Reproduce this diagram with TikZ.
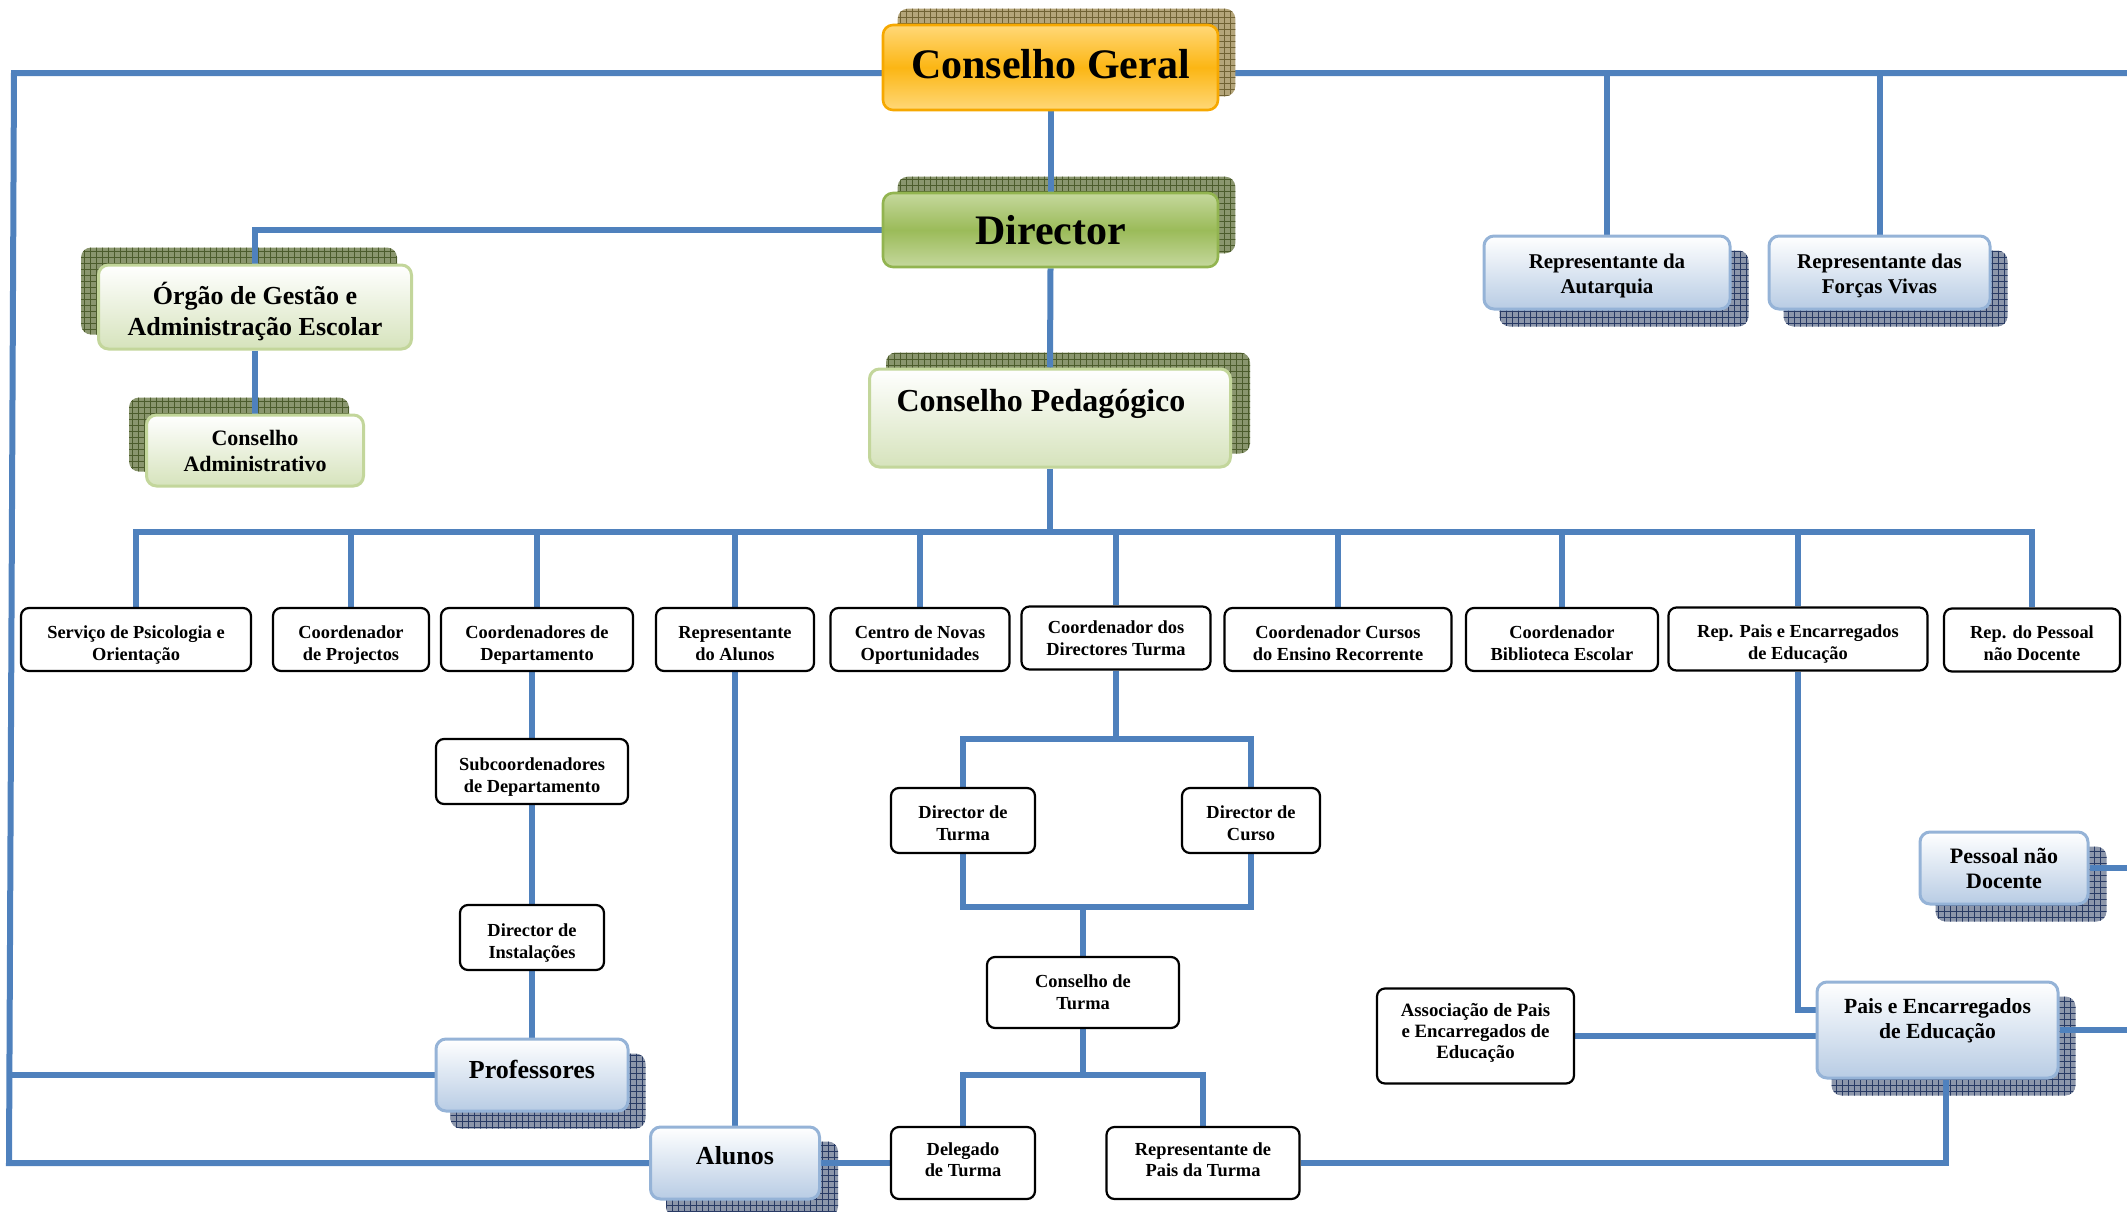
\documentclass[tikz,border=0pt]{standalone}
\usepackage{fontspec}
\setmainfont{Liberation Serif}
\usetikzlibrary{patterns,calc}
\definecolor{wireblue}{RGB}{79,129,189}
\definecolor{gerallight}{RGB}{255,216,120}
\definecolor{geralmid}{RGB}{252,182,20}
\definecolor{geralborder}{RGB}{246,168,0}
\definecolor{dirlight}{RGB}{197,216,157}
\definecolor{dirmid}{RGB}{155,187,89}
\definecolor{dirborder}{RGB}{146,180,80}
\definecolor{palegreen}{RGB}{214,227,188}
\definecolor{paleborder}{RGB}{195,214,155}
\definecolor{paleblue}{RGB}{184,204,228}
\definecolor{blueborder}{RGB}{149,179,215}
\definecolor{khakishade}{RGB}{180,165,122}
\definecolor{khakiline}{RGB}{112,98,52}
\definecolor{oliveshade}{RGB}{138,150,110}
\definecolor{oliveline}{RGB}{76,92,44}
\definecolor{slateshade}{RGB}{140,150,170}
\definecolor{slateline}{RGB}{40,58,100}

\pgfdeclarelayer{back}
\pgfdeclarelayer{shade}
\pgfdeclarelayer{wires}
\pgfsetlayers{back,shade,wires,main}

\begin{document}
\begin{tikzpicture}[x=0.5pt, y=-0.5pt,
    geral/.style={rectangle, draw=geralborder, line width=1.3pt, rounded corners=5pt,
                  top color=gerallight, bottom color=gerallight, middle color=geralmid,
                  font=\fontsize{21}{25}\selectfont\bfseries},
    chief/.style={rectangle, draw=dirborder, line width=1.3pt, rounded corners=5pt,
                  top color=dirlight, bottom color=dirlight, middle color=dirmid,
                  font=\fontsize{21}{25}\selectfont\bfseries},
    board/.style={rectangle, draw=paleborder, line width=1.5pt, rounded corners=5pt,
                  top color=white, bottom color=palegreen, align=center},
    member/.style={rectangle, draw=blueborder, line width=1.5pt, rounded corners=5pt,
                   top color=white, bottom color=paleblue, align=center,
                   font=\fontsize{10.5}{12.2}\selectfont\bfseries},
    unit/.style={rectangle, draw=black, line width=1.1pt, fill=white, rounded corners=4pt,
                 align=center, inner sep=2pt, font=\fontsize{9.2}{10.9}\selectfont\bfseries},
    lowered/.style={text height=20.5pt, text depth=0pt},
    shadowbox/.style={rounded corners=5pt},
    wire/.style={draw=wireblue, line width=3pt}
]
\useasboundingbox (0,0) rectangle (2127,1211);

% Top of the school
\node[geral, minimum width=167.5pt, minimum height=42.5pt, text depth=4pt] (cg) at (1050.5,67.5) {Conselho Geral};
\node[chief, minimum width=167.5pt, minimum height=37pt] (dir) at (1050.5,230) {Director};
\node[board, minimum width=156.5pt, minimum height=42pt, text height=28.5pt, text depth=0pt, font=\fontsize{13}{15.6}\selectfont\bfseries] (org) at (255,307) {Órgão de Gestão e\\Administração Escolar};
\node[board, minimum width=108.5pt, minimum height=35.5pt, font=\fontsize{11}{13}\selectfont\bfseries] (cadm) at (255,450.5) {Conselho\\Administrativo};
\node[board, minimum width=180.5pt, minimum height=49pt, text depth=18pt, font=\fontsize{16}{19}\selectfont\bfseries] (cped) at (1050,418) {\hspace*{-9pt}Conselho Pedagógico};

% Representatives on the right
\node[member, minimum width=123pt, minimum height=36.5pt, text height=20.8pt, text depth=0pt] (raut) at (1607,272.5) {Representante da\\Autarquia};
\node[member, minimum width=110.5pt, minimum height=36.5pt, text height=20.8pt, text depth=0pt] (rfv) at (1879.5,272.5) {Representante das\\Forças Vivas};

% Row under the Conselho Pedagogico
\node[unit, lowered, minimum width=115pt, minimum height=31.5pt] (psi) at (136,639.5) {Serviço de Psicologia e\\Orientação};
\node[unit, lowered, minimum width=78pt, minimum height=31.5pt] (proj) at (351,639.5) {Coordenador\\de Projectos};
\node[unit, lowered, minimum width=96pt, minimum height=31.5pt] (cdep) at (537,639.5) {Coordenadores de\\Departamento};
\node[unit, lowered, minimum width=79pt, minimum height=31.5pt] (ralu) at (735,639.5) {Representante\\do Alunos};
\node[unit, lowered, minimum width=89.5pt, minimum height=31.5pt] (cno) at (920,639.5) {Centro de Novas\\Oportunidades};
\node[unit, minimum width=94.5pt, minimum height=31.5pt] (cdt) at (1116,638) {Coordenador dos\\Directores Turma};
\node[unit, lowered, minimum width=113.5pt, minimum height=31.5pt] (cer) at (1338,639.5) {Coordenador Cursos\\do Ensino Recorrente};
\node[unit, lowered, minimum width=96pt, minimum height=31.5pt] (cbe) at (1562,639.5) {Coordenador\\Biblioteca Escolar};
\node[unit, lowered, minimum width=129.5pt, minimum height=31.5pt] (rpee) at (1798,639) {Rep. Pais e Encarregados\\de Educação};
\node[unit, minimum width=88pt, minimum height=31.5pt, text height=20pt, text depth=0pt] (rpnd) at (2032,640) {Rep. do Pessoal\\não Docente};

% Departamento branch
\node[unit, lowered, minimum width=96pt, minimum height=32.5pt] (subd) at (532,771.5) {Subcoordenadores\\de Departamento};
\node[unit, lowered, minimum width=72pt, minimum height=32.5pt] (dinst) at (532,937.5) {Director de\\Instalações};
\node[member, minimum width=96pt, minimum height=36pt, text depth=5.5pt, font=\fontsize{13}{15}\selectfont\bfseries] (prof) at (532,1075) {Professores};
\node[member, minimum width=84.5pt, minimum height=36pt, text depth=8pt, font=\fontsize{13}{15}\selectfont\bfseries] (alunos) at (735,1163) {Alunos};

% Turma branch
\node[unit, minimum width=72pt, minimum height=32.5pt, text height=20pt, text depth=0pt] (dtur) at (963,820.5) {Director de\\Turma};
\node[unit, minimum width=69pt, minimum height=32.5pt, text height=20pt, text depth=0pt] (dcur) at (1251,820.5) {Director de\\Curso};
\node[unit, minimum width=96pt, minimum height=35.5pt] (ct) at (1083,992.5) {Conselho de\\Turma};
\node[unit, minimum width=72pt, minimum height=36pt, text height=13.8pt, text depth=0pt] (deleg) at (963,1163) {Delegado\\de Turma};
\node[unit, minimum width=96.5pt, minimum height=36pt, text height=13.8pt, text depth=0pt] (rpt) at (1203,1163) {Representante de\\Pais da Turma};

% Pais and pessoal
\node[unit, minimum width=98.5pt, minimum height=47.5pt, text height=22.7pt, text depth=0pt, font=\fontsize{9.4}{10.5}\selectfont\bfseries] (assoc) at (1475.5,1036) {Associação de Pais\\e Encarregados de\\Educação};
\node[member, minimum width=120.5pt, minimum height=48pt, text depth=11.5pt, font=\fontsize{10.8}{12.5}\selectfont\bfseries] (pais) at (1937.5,1030) {Pais e Encarregados\\de Educação};
\node[member, minimum width=84pt, minimum height=36pt, font=\fontsize{11}{12.5}\selectfont\bfseries] (pessoal) at (2004,868) {Pessoal não\\Docente};

% Hatched shadows
\begin{pgfonlayer}{shade}
\foreach \nm/\dx/\dy/\bc/\lc in {cg/16/-15/khakishade/khakiline, dir/16/-15/oliveshade/oliveline,
    org/-16/-16/oliveshade/oliveline, cadm/-16/-16/oliveshade/oliveline, cped/18/-15/oliveshade/oliveline,
    raut/17/16/slateshade/slateline, rfv/16/16/slateshade/slateline, prof/16/16/slateshade/slateline,
    alunos/17/16/slateshade/slateline, pessoal/17/16/slateshade/slateline, pais/16/16/slateshade/slateline}
  \fill[shadowbox, fill=\bc, postaction={pattern=grid, pattern color=\lc}]
    ([shift={(\dx,\dy)}]\nm.south west) rectangle ([shift={(\dx,\dy)}]\nm.north east);
\end{pgfonlayer}

% Frame line
\coordinate (lt) at (14,73);
\coordinate (rt) at (2127,73);
\coordinate (lb) at (9,1163);
\begin{pgfonlayer}{back}
\draw[wire] (rt) -- (lt) -- (lb) -- (lb -| alunos.west);
\end{pgfonlayer}

% Connections
\coordinate (bus) at (1050,532);
\coordinate (tb) at (1116,739);
\coordinate (bb) at (1083,907);
\coordinate (cb) at (1083,1075);
\begin{pgfonlayer}{wires}
\draw[wire] (cg.south) -- (dir.north);
\draw[wire] (dir.west) -| (org.north);
\draw[wire] (org.south) -- (cadm.north);
\draw[wire] (dir.south) -- (cped.north);
\draw[wire] (raut.north) -- (raut.north |- rt);
\draw[wire] (rfv.north) -- (rfv.north |- rt);
\draw[wire] (cped.south) -- (bus);
\foreach \n in {psi,proj,cdep,ralu,cno,cdt,cer,cbe,rpee,rpnd}
  \draw[wire] (bus) -| (\n.north);
\draw[wire] (subd.north |- cdep.south) -- (subd.north);
\draw[wire] (subd.south) -- (dinst.north);
\draw[wire] (dinst.south) -- (prof.north);
\draw[wire] (prof.west) -- (prof.west -| lb);
\draw[wire] (ralu.south) -- (alunos.north);
\draw[wire] (alunos.east) -- (deleg.west);
\draw[wire] (cdt.south) -- (tb);
\draw[wire] (dtur.north) |- (tb) -| (dcur.north);
\draw[wire] (dtur.south) |- (bb) -| (dcur.south);
\draw[wire] (bb) -- (ct.north);
\draw[wire] (ct.south) -- (cb);
\draw[wire] (deleg.north) |- (cb) -| (rpt.north);
\draw[wire] (rpt.east) -| ([xshift=4pt]pais.south);
\draw[wire] (rpee.south) |- ($(pais.west)+(0,-20)$);
\draw[wire] (assoc.east) -- (assoc.east -| pais.west);
\draw[wire] (pais.east) -- (pais.east -| rt);
\draw[wire] (pessoal.east) -- (pessoal.east -| rt);
\end{pgfonlayer}

\end{tikzpicture}
\end{document}
